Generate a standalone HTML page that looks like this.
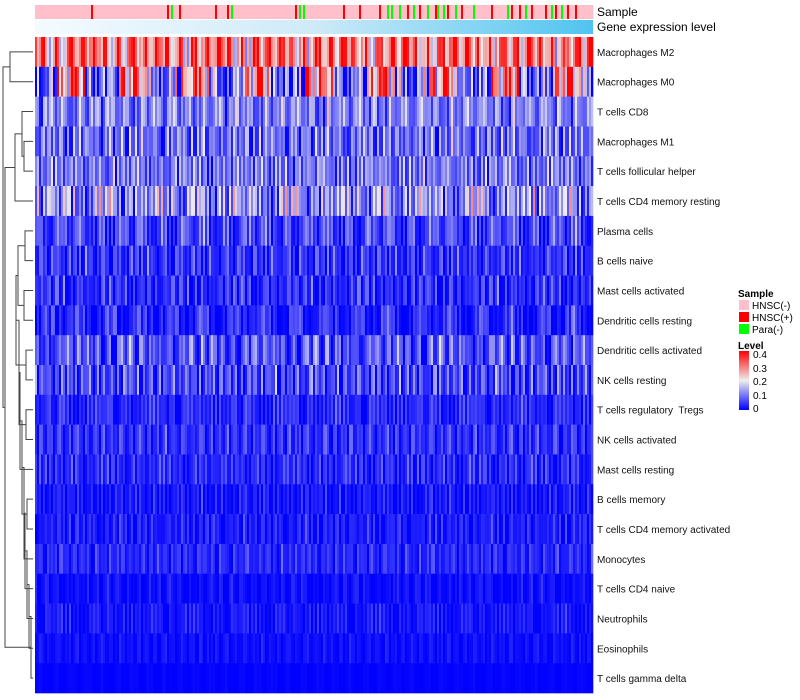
<!DOCTYPE html>
<html><head><meta charset="utf-8"><style>
body{margin:0;background:#fff;}
svg{display:block;font-family:"Liberation Sans",sans-serif;}
#labels text{white-space:pre;}
</style></head><body>
<svg id="chart" width="800" height="700" xmlns="http://www.w3.org/2000/svg">
<defs>
<linearGradient id="geneGrad" x1="0" x2="1" y1="0" y2="0"><stop offset="0" stop-color="#f4fbff"/><stop offset="0.5" stop-color="#cfeaf8"/><stop offset="1" stop-color="#4fc4f0"/></linearGradient>
<linearGradient id="levelGrad" x1="0" x2="0" y1="1" y2="0"><stop offset="0" stop-color="#0000ff"/><stop offset="0.5" stop-color="#eeeeee"/><stop offset="1" stop-color="#ff0000"/></linearGradient>
</defs>
<g id="cells"></g>
<g id="dendro" stroke="#444" stroke-width="1" fill="none"></g>
<g id="labels" font-size="10" fill="#111"></g>
<rect x="35" y="20" width="558" height="14" fill="url(#geneGrad)"/>
<text x="597" y="16" font-size="12">Sample</text>
<text x="597" y="31" font-size="12">Gene expression level</text>
<g font-size="10">
<text x="738" y="297" font-weight="bold">Sample</text>
<rect x="739" y="300" width="10" height="10" fill="#ffc0cb"/>
<text x="752" y="309">HNSC(-)</text>
<rect x="739" y="312" width="10" height="10" fill="#ff0000"/>
<text x="752" y="321">HNSC(+)</text>
<rect x="739" y="324" width="10" height="10" fill="#00ff00"/>
<text x="752" y="333">Para(-)</text>
<text x="738" y="349" font-weight="bold">Level</text>
<rect x="739" y="351" width="10" height="59" fill="url(#levelGrad)"/>
<text x="753" y="358">0.4</text><text x="753" y="372">0.3</text><text x="753" y="385">0.2</text><text x="753" y="399">0.1</text><text x="753" y="412">0</text>
</g>
</svg>
<script>
const rowNames=["Macrophages M2","Macrophages M0","T cells CD8","Macrophages M1","T cells follicular helper","T cells CD4 memory resting","Plasma cells","B cells naive","Mast cells activated","Dendritic cells resting","Dendritic cells activated","NK cells resting","T cells regulatory  Tregs","NK cells activated","Mast cells resting","B cells memory","T cells CD4 memory activated","Monocytes","T cells CD4 naive","Neutrophils","Eosinophils","T cells gamma delta"];
const rowMeans=[0.28,0.15,0.1,0.08,0.09,0.11,0.05,0.035,0.03,0.025,0.06,0.05,0.03,0.035,0.03,0.015,0.02,0.03,0.008,0.015,0.01,0.002];
const rowSpread=[0.12,0.2,0.07,0.08,0.07,0.1,0.06,0.05,0.05,0.05,0.07,0.07,0.035,0.04,0.04,0.03,0.03,0.03,0.02,0.025,0.015,0.004];
const devA=[0.3,-0.6,0.9,-0.2,0.1,-0.9,0.6,-0.4,1.2,-0.1,0.4,-0.7,0.0,0.8,-0.5,0.2,-0.3,1.5,-0.8,0.5,-0.2,0.7,-1.0,0.1,0.9,-0.4,0.3,-0.6,1.1,-0.1,0.2];
const devB=[0.5,-0.3,0.2,-0.8,0.9,-0.1,0.3,-0.6,0.7,0.0,-0.4,1.0,-0.2,0.4,-0.9,0.6,-0.5,0.1,0.8,-0.7,0.2,-0.1,0.4];
const nCols=279;
const posCols=[28,66,72,90,96,130,154,162,172,186,192,200,206,213,228,238,242,248,255,260,266,270];
const paraCols=[68,98,132,134,176,178,182,186,189,192,196,201,204,210,219,236,245,258,263];
const X0=35,X1=593,Y0=37,Y1=693;
const xScale=c=>X0+c*(X1-X0)/nCols;
const rowH=(Y1-Y0)/rowNames.length;
const yScale=r=>Y0+r*rowH;
function color(v){v=Math.max(0,Math.min(0.4,v));let r,g,b;
 if(v<0.2){const t=v/0.2;r=Math.round(238*t);g=Math.round(238*t);b=Math.round(255-17*t);}
 else{const t=(v-0.2)/0.2;r=Math.round(238+17*t);g=Math.round(238*(1-t));b=Math.round(238*(1-t));}
 return `rgb(${r},${g},${b})`;}
const NS="http://www.w3.org/2000/svg";
const cells=document.getElementById('cells');
const cw=(X1-X0)/nCols;
for(let c=0;c<nCols;c++){
 const r=document.createElementNS(NS,'rect');
 
 
 const col=posCols.includes(c)?'#ff0000':paraCols.includes(c)?'#00ff00':'#ffc0cb';
 r.setAttribute('x',xScale(c));r.setAttribute('y',5);r.setAttribute('width',cw+0.3);r.setAttribute('height',14);r.setAttribute('fill',col);
 cells.appendChild(r);}
const strides=[7,11,13,17,19,23,29,3,5,9,27,25,21,15,8,12,14,6,4,10,16,18];
for(let i=0;i<rowNames.length;i++){
 for(let c=0;c<nCols;c++){
  const d=devA[(c*strides[i]+i*5)%devA.length]+0.6*devB[(c*(i%7+2)+i)%devB.length];
  const v=rowMeans[i]+rowSpread[i]*d;
  const r=document.createElementNS(NS,'rect');
  
  
  r.setAttribute('x',xScale(c));r.setAttribute('y',yScale(i));r.setAttribute('width',cw+0.3);r.setAttribute('height',rowH+0.3);r.setAttribute('fill',color(v));
  cells.appendChild(r);}
 const t=document.createElementNS(NS,'text');
 
 
 t.setAttribute('x',597);t.setAttribute('y',yScale(i)+rowH/2+4);t.textContent=rowNames[i];
 document.getElementById('labels').appendChild(t);}
const merges=[[0,1,10],[3,4,24],[2,'m1',22],[5,'m2',15],[6,7,25],[8,9,24],['m4','m5',18],[10,11,26],['m6','m7',16],[12,13,26],['m8','m9',19],[14,'m10',20],[15,16,27],['m11','m12',22],[17,'m13',24],[18,'m14',25],[19,'m15',27],[20,'m16',29],[21,'m17',31],['m18','m3',5],['m0','m19',3]];
const dg=document.getElementById('dendro');const nodes={};
function node(k){if(typeof k==='number')return{x:33,y:yScale(k)+rowH/2};return nodes[k];}
merges.forEach((m,i)=>{const a=node(m[0]),b=node(m[1]),h=m[2];
 const p=document.createElementNS(NS,'path');
 
 
 p.setAttribute('d',`M${a.x},${a.y}H${h}V${b.y}H${b.x}`);dg.appendChild(p);
 nodes['m'+i]={x:h,y:(a.y+b.y)/2};});
</script>
</body></html>
